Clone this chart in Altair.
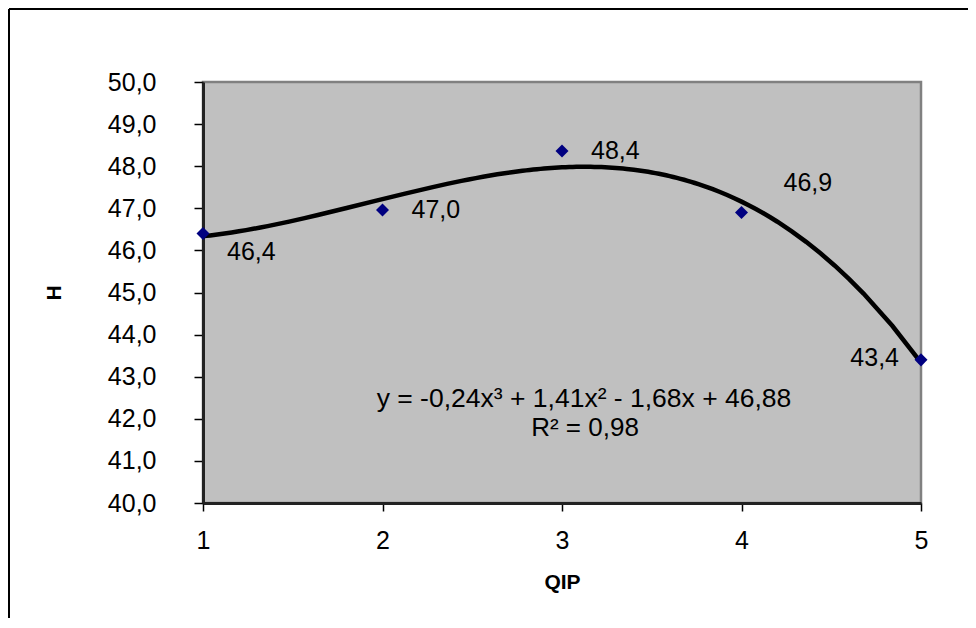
import altair as alt
import pandas as pd

# data
qip = [1, 2, 3, 4, 5]
h_values = [46.4, 46.96, 48.36, 46.9, 43.4]
y_ticks = [40, 41, 42, 43, 44, 45, 46, 47, 48, 49, 50]
x_ticks = [1, 2, 3, 4, 5]
equation = "y = -0,24x³ + 1,41x² - 1,68x + 46,88"
r_squared = "R² = 0,98"

df = pd.DataFrame({"QIP": qip, "H": h_values})

FONT = "Liberation Sans"

xs = alt.Scale(domain=[1, 5], nice=False, zero=False)
ys = alt.Scale(domain=[40, 50], nice=False, zero=False)

x_axis = alt.Axis(values=x_ticks, format="d", labelFontSize=25, labelColor="black",
                  labelFont=FONT, labelFlush=False, tickSize=8, tickColor="black",
                  tickWidth=1.5, domainColor="#222222", domainWidth=3, labelPadding=17,
                  grid=False, title="QIP", titleFontSize=21, titleFont=FONT,
                  titleFontWeight="bold", titleColor="black", titlePadding=18)
y_axis = alt.Axis(values=y_ticks, format=".1f",
                  labelExpr="replace(datum.label, '.', ',')",
                  labelFontSize=25, labelColor="black", labelFont=FONT,
                  labelFlush=False, tickSize=9, tickColor="black", tickWidth=1.5,
                  domainColor="#222222", domainWidth=3, labelPadding=38, grid=False,
                  title="H", titleFontSize=21, titleFont=FONT, titleFontWeight="bold",
                  titleColor="black", titlePadding=43)

base = alt.Chart(df)

top_border = base.mark_rule(stroke="black", strokeWidth=1.5).encode(
    x=alt.value(-194), x2=alt.value(765), y=alt.value(-73)
)
left_border = base.mark_rule(stroke="black", strokeWidth=1.5).encode(
    x=alt.value(-194), y=alt.value(-73), y2=alt.value(538)
)

trend = base.transform_regression("QIP", "H", method="poly", order=3).mark_line(
    color="black", strokeWidth=4.5
).encode(
    x=alt.X("QIP:Q", scale=xs, axis=x_axis),
    y=alt.Y("H:Q", scale=ys, axis=y_axis),
)

points = base.mark_point(shape="diamond", filled=True, color="#000080", size=170,
                         opacity=1).encode(
    x=alt.X("QIP:Q", scale=xs),
    y=alt.Y("H:Q", scale=ys),
)

# per-label placement (style, not data)
placements = {1: (24, 18, "left"), 2: (29, 0, "left"), 3: (29, 0, "left"),
              4: (42, -30, "left"), 5: (-22, -2, "right")}
labels = []
for q, (dx, dy, al) in placements.items():
    labels.append(
        base.transform_filter(alt.datum.QIP == q)
        .transform_calculate(lab="replace(format(datum.H, '.1f'), '.', ',')")
        .mark_text(font=FONT, fontSize=25, color="black", dx=dx, dy=dy, align=al,
                   baseline="middle")
        .encode(x=alt.X("QIP:Q", scale=xs), y=alt.Y("H:Q", scale=ys), text="lab:N")
    )

eq = alt.Chart(pd.DataFrame({"t": [equation]})).mark_text(
    font=FONT, fontSize=26.5, color="black", align="center", baseline="middle"
).encode(x=alt.value(381), y=alt.value(317), text="t:N")
r2 = alt.Chart(pd.DataFrame({"t": [r_squared]})).mark_text(
    font=FONT, fontSize=26, color="black", align="center", baseline="middle"
).encode(x=alt.value(382), y=alt.value(346), text="t:N")

chart = alt.layer(top_border, left_border, trend, points, *labels, eq, r2).properties(
    width=718, height=421,
    autosize=alt.AutoSizeParams(type="none"),
    padding={"left": 195, "top": 74, "right": 47, "bottom": 115},
    background="white",
).configure(font=FONT).configure_view(fill="#C0C0C0", stroke="#808080", strokeWidth=2.5)

chart.save("out.html", embed_options={"renderer": "svg", "actions": False})
